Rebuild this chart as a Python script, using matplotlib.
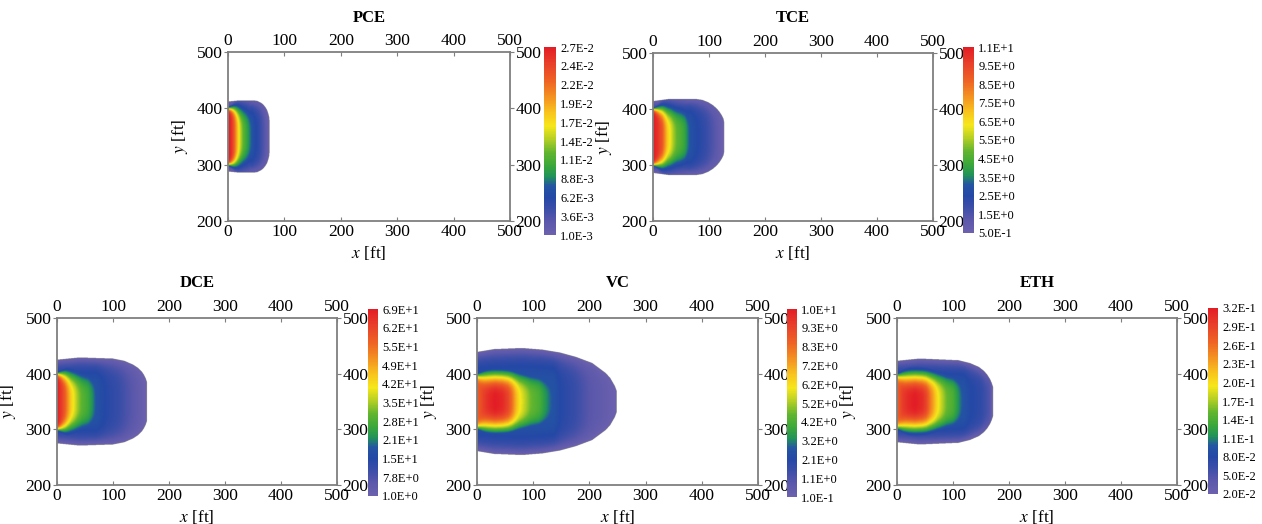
import matplotlib
matplotlib.use("Agg")
import matplotlib.pyplot as plt
import numpy as np
from matplotlib.colors import LinearSegmentedColormap

plt.rcParams["font.family"] = ["Liberation Serif", "DejaVu Serif"]
plt.rcParams["mathtext.fontset"] = "stix"

names = ["PCE", "TCE", "DCE", "VC", "ETH"]

# colour bar labels (bottom -> top) and the value range they span
pce_labels = ["1.0E-3", "3.6E-3", "6.2E-3", "8.8E-3", "1.1E-2", "1.4E-2",
              "1.7E-2", "1.9E-2", "2.2E-2", "2.4E-2", "2.7E-2"]
tce_labels = ["5.0E-1", "1.5E+0", "2.5E+0", "3.5E+0", "4.5E+0", "5.5E+0",
              "6.5E+0", "7.5E+0", "8.5E+0", "9.5E+0", "1.1E+1"]
dce_labels = ["1.0E+0", "7.8E+0", "1.5E+1", "2.1E+1", "2.8E+1", "3.5E+1",
              "4.2E+1", "4.9E+1", "5.5E+1", "6.2E+1", "6.9E+1"]
vc_labels = ["1.0E-1", "1.1E+0", "2.1E+0", "3.2E+0", "4.2E+0", "5.2E+0",
             "6.2E+0", "7.2E+0", "8.3E+0", "9.3E+0", "1.0E+1"]
eth_labels = ["2.0E-2", "5.0E-2", "8.0E-2", "1.1E-1", "1.4E-1", "1.7E-1",
              "2.0E-1", "2.3E-1", "2.6E-1", "2.9E-1", "3.2E-1"]

pce_range = [1.0e-3, 2.7e-2]
tce_range = [0.5, 10.5]
dce_range = [1.0, 69.0]
vc_range = [0.1, 10.3]
eth_range = [0.02, 0.32]

# concentration (y = 350 ft)
pce_cx = [0, 5, 10, 14, 18, 22, 27, 33, 38, 45, 55, 63, 73]
pce_cc = [0.027, 0.0262, 0.0234, 0.0202, 0.0171, 0.0145, 0.0122, 0.0104,
          0.0088, 0.0070, 0.0054, 0.0036, 0.0010]
tce_cx = [0, 8, 16, 21, 26, 31, 36, 42, 50, 56, 61, 66, 80, 95, 110, 126]
tce_cc = [10.5, 10.0, 9.1, 7.9, 6.8, 6.2, 5.5, 4.9, 4.5, 4.1, 3.5, 3.0, 2.5,
          2.0, 1.3, 0.5]
dce_cx = [0, 8, 14, 19, 25, 30, 36, 44, 55, 62, 70, 90, 110, 130, 160]
dce_cc = [69, 63.6, 58.1, 51.3, 43.8, 39.8, 35, 30.2, 26.8, 22.8, 18, 13.9,
          11.2, 7.1, 1.0]
vc_cx = [0, 10, 20, 32, 45, 55, 62, 68, 75, 85, 95, 110, 120, 130, 150, 175,
         200, 225, 248]
vc_cc = [8.5, 9.3, 9.9, 10.3, 10.0, 9.3, 8.3, 7.2, 6.2, 5.4, 4.7, 4.2, 3.5,
         2.9, 2.1, 1.6, 0.9, 0.5, 0.1]
eth_cx = [0, 10, 20, 32, 45, 52, 58, 65, 72, 80, 88, 100, 108, 115, 130, 150,
          165, 171]
eth_cc = [0.266, 0.296, 0.311, 0.32, 0.308, 0.29, 0.26, 0.23, 0.20, 0.176,
          0.155, 0.14, 0.119, 0.101, 0.083, 0.071, 0.05, 0.02]

# half width of the plume outline about y = 350 ft
pce_ex = [0, 20, 45, 52, 58, 62, 66, 69, 71, 72.5, 73]
pce_ew = [62, 64, 64, 63, 60, 57, 52, 47, 41, 35, 30]
tce_ex = [0, 30, 75, 88, 98, 106, 113, 118, 122, 125, 126]
tce_ew = [64, 68, 68, 66, 62, 57, 51, 45, 39, 33, 28]
dce_ex = [0, 40, 100, 120, 136, 145, 151, 155, 158, 160]
dce_ew = [75, 79, 77, 73, 66, 60, 54, 48, 42, 36]
vc_ex = [0, 30, 80, 117, 147, 176, 205, 229, 237, 241, 245, 248]
vc_ew = [89, 94, 96, 93, 88, 80, 69, 51, 42, 35, 28, 20]
eth_ex = [0, 40, 110, 130, 146, 155, 161, 166, 169, 171]
eth_ew = [73, 77, 74, 69, 62, 55, 48, 40, 33, 27]

# source zone spans y = 300..400 ft
src_lo, src_hi = 300, 400

cmap = LinearSegmentedColormap.from_list("plume", [
    (0.00, "#6c61ae"), (0.07, "#5b58ab"), (0.14, "#3a4ea8"),
    (0.20, "#2448a6"), (0.26, "#2455a3"), (0.31, "#20925a"),
    (0.37, "#3ba83a"), (0.44, "#62b52f"), (0.51, "#b5cf24"),
    (0.58, "#f6e71b"), (0.65, "#f8c51d"), (0.72, "#f49a20"),
    (0.82, "#ee6323"), (0.91, "#e8412a"), (1.00, "#e31d25")])


def plume(cx, cc, ex, ew, rng, half, n_near, n_far):
    lo, hi = rng
    xg = np.linspace(0, 500, 1001)
    yg = np.linspace(200, 500, 601)
    X, Y = np.meshgrid(xg, yg)
    dy = np.abs(Y - (src_lo + src_hi) / 2)
    uc = np.clip((np.interp(X, cx, cc) - lo) / (hi - lo), 0, 1)
    E = np.interp(X, ex, ew)
    # side walls are sharp at the source and soften downstream
    n = n_far + (n_near - n_far) * np.exp(-X / 6)
    inner = uc * np.exp(-np.log(2) * (dy / half) ** n)
    halo = np.minimum(uc, 0.25) * (1 - (dy / E) ** 4)
    u = np.maximum(inner, halo)
    C = lo + u * (hi - lo)
    return np.ma.masked_array(C, (dy >= E) | (X > cx[-1]))


W, H = 1262, 524


def box(l, t, r, b):
    return [l / W, 1 - b / H, (r - l) / W, (b - t) / H]


panels = [
    (pce_labels, pce_range, pce_cx, pce_cc, pce_ex, pce_ew, 50, 20, 3.5,
     (228, 52, 510, 221), (544, 47, 556, 235), 18),
    (tce_labels, tce_range, tce_cx, tce_cc, tce_ex, tce_ew, 50, 20, 3.5,
     (653, 53, 933, 221), (963, 47, 974, 233), 18),
    (dce_labels, dce_range, dce_cx, dce_cc, dce_ex, dce_ew, 50, 16, 3.5,
     (57, 318, 337, 485), (368, 309, 378, 496), 283),
    (vc_labels, vc_range, vc_cx, vc_cc, vc_ex, vc_ew, 47, 10, 3.5,
     (477, 318, 758, 485), (787, 309, 797, 497), 283),
    (eth_labels, eth_range, eth_cx, eth_cc, eth_ex, eth_ew, 47, 10, 3.5,
     (897, 318, 1177, 485), (1208, 308, 1218, 494), 283),
]

gray = "#7f7f7f"
fig = plt.figure(figsize=(W / 100, H / 100), dpi=100)

for name, p in zip(names, panels):
    labels, rng, cx, cc, ex, ew, half, n_near, n_far, abox, cbox, ty = p
    ax = fig.add_axes(box(*abox))
    C = plume(cx, cc, ex, ew, rng, half, n_near, n_far)
    im = ax.imshow(C, extent=[0, 500, 200, 500], origin="lower", cmap=cmap,
                   vmin=rng[0], vmax=rng[1], aspect="auto",
                   interpolation="bilinear")
    ax.set_xlim(0, 500)
    ax.set_ylim(200, 500)
    ax.set_xticks(range(0, 501, 100))
    ax.set_yticks(range(200, 501, 100))
    ax.tick_params(axis="x", top=True, labeltop=True, direction="in",
                   length=3, color=gray, labelsize=12.5, pad=2)
    ax.tick_params(axis="y", right=True, labelright=True, direction="out",
                   length=3, color=gray, labelsize=12.5, pad=1)
    for sp in ax.spines.values():
        sp.set_color(gray)
        sp.set_linewidth(1.3)
    ax.set_xlabel("$x$ [ft]", fontsize=12.5, labelpad=3)
    ax.set_ylabel("$y$ [ft]", fontsize=12.5, labelpad=5)
    fig.text((abox[0] + abox[2]) / 2 / W, 1 - ty / H, name, ha="center",
             va="center", fontsize=12, fontweight="bold")

    cax = fig.add_axes(box(*cbox))
    cb = fig.colorbar(im, cax=cax, ticks=np.linspace(rng[0], rng[1], 11))
    cb.ax.set_yticklabels(labels)
    cb.ax.tick_params(length=0, pad=3, labelsize=9)
    cb.outline.set_visible(False)

fig.savefig("out.png", dpi=100)
